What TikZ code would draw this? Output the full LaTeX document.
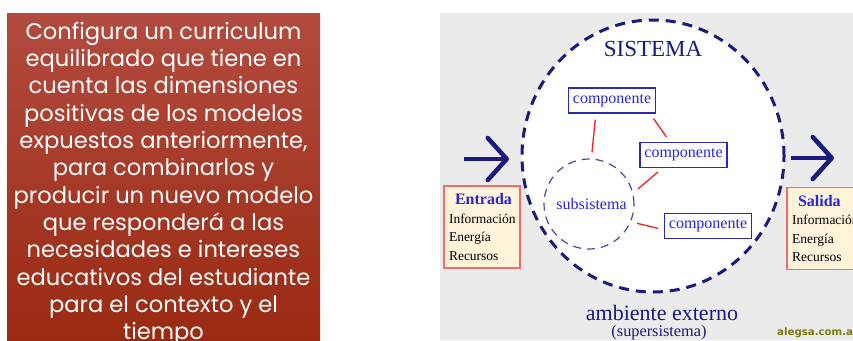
\documentclass[tikz,border=0pt]{standalone}
\usepackage{fontspec}
\setmainfont{Liberation Serif}
\newfontfamily\gothic{Poppins}
\newfontfamily\webfont{DejaVu Sans}
\usetikzlibrary{arrows.meta,shapes.geometric}
\definecolor{ladrillo}{HTML}{B24B3F}
\definecolor{ladrilloosc}{HTML}{9A2A12}
\definecolor{fondo}{HTML}{EBEBEB}
\definecolor{marino}{HTML}{1A1A80}
\definecolor{marcoazul}{HTML}{2B2BA8}
\definecolor{compazul}{HTML}{2626E0}
\definecolor{subazul}{HTML}{4A4A9E}
\definecolor{rojo}{HTML}{EE2222}
\definecolor{crema}{HTML}{FFF4DA}
\definecolor{salmon}{HTML}{F26B6B}
\definecolor{oliva}{HTML}{7A7A10}
\begin{document}
\begin{tikzpicture}[x=1pt,y=-1pt,
  comp/.style={draw=marcoazul, line width=1.2pt, fill=white, text=compazul,
    font=\fontsize{16}{18}\selectfont, minimum width=87pt, minimum height=25pt, inner sep=2pt},
  enlace/.style={draw=rojo, line width=1.3pt, shorten <=6pt, shorten >=6pt},
  flecha/.style={-{Straight Barb[length=19pt,width=42pt,round]}, line width=4.5pt, draw=marino},
  caja/.style={draw=salmon, line width=1.5pt, fill=crema, align=left, text width=66pt,
    minimum height=82pt, inner xsep=5pt, inner ysep=2pt, font=\fontsize{13.5}{18.5}\selectfont}]
\useasboundingbox (0,0) rectangle (853,340);
\fill[white] (0,0) rectangle (853,340);
\shade[top color=ladrillo, bottom color=ladrilloosc] (7,13) rectangle (320,340);
\fill[fondo] (440,13) rectangle (853,340);
\node[text=white, font=\gothic\fontsize{22.6}{27.3}\selectfont, align=center, anchor=north] (texto) at (163.5,18.5)
  {Configura un curriculum\\ equilibrado que tiene en\\ cuenta las dimensiones\\ positivas de los modelos\\
   expuestos anteriormente,\\ para combinarlos y\\ producir un nuevo modelo\\ que responderá a las\\
   necesidades e intereses\\ educativos del estudiante\\ para el contexto y el\\ tiempo};
\node[ellipse, draw=marino, line width=3pt, dash pattern=on 10pt off 7pt, fill=white,
  minimum width=262pt, minimum height=272pt, inner sep=0pt] (sys) at (653,156) {};
\node[text=marino, font=\fontsize{23}{26}\selectfont] (titulo) at (653,49) {SISTEMA};
\node[circle, draw=subazul, line width=1.2pt, dash pattern=on 8pt off 6pt, minimum size=90pt,
  text=compazul, font=\fontsize{16}{18}\selectfont] (sub) at (589,204) {\hspace*{5pt}subsistema};
\node[comp] (c1) at (612,100.5) {componente};
\node[comp] (c2) at (683.5,155) {componente};
\node[comp] (c3) at (708,226) {componente};
\draw[enlace] (c1.-141) -- (sub.87);
\draw[enlace] (c1.-19) -- (c2.136);
\draw[enlace] (c2.-148) -- (sub.14);
\draw[enlace] (sub.-23) -- (c3.-175);
\node[caja] (entrada) at (482,227) {\hspace*{6pt}{\fontsize{16}{18.5}\selectfont\bfseries\color{compazul}Entrada}\\ Información\\ Energía\\ Recursos};
\node[caja] (salida) at (825,228.5) {\hspace*{6pt}{\fontsize{16}{18.5}\selectfont\bfseries\color{compazul}Salida}\\ Información\\ Energía\\ Recursos};
\coordinate (entra1) at (464,159);
\coordinate (entra2) at (509,159);
\coordinate (sale1) at (791,158);
\coordinate (sale2) at (834,158);
\draw[flecha] (entra1) -- (entra2);
\draw[flecha] (sale1) -- (sale2);
\node[text=marino, font=\fontsize{22}{24}\selectfont] (ambiente) at (662,313) {ambiente externo};
\node[text=marino, font=\fontsize{16.3}{18}\selectfont] (super) at (659,333) {(supersistema)};
\node[text=oliva, font=\webfont\bfseries\fontsize{10.2}{12}\selectfont, anchor=west, inner sep=0pt] (web) at (777,333) {alegsa.com.ar};
\end{tikzpicture}
\end{document}
